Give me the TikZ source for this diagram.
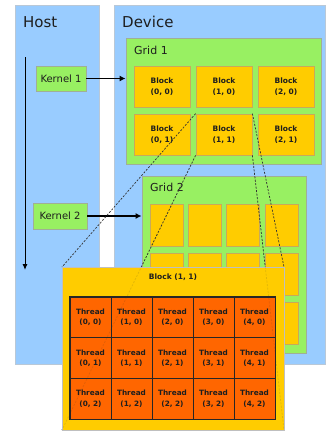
\documentclass[tikz,border=0pt]{standalone}
\usepackage{fontspec}
\setmainfont{DejaVu Sans}
\usetikzlibrary{arrows.meta}
\definecolor{panelblue}{RGB}{153,204,255}
\definecolor{panelline}{RGB}{185,200,215}
\definecolor{gridgreen}{RGB}{152,240,98}
\definecolor{gridline}{RGB}{160,175,150}
\definecolor{blockyellow}{RGB}{255,204,0}
\definecolor{blockline}{RGB}{200,170,90}
\definecolor{threadorange}{RGB}{255,102,0}
\definecolor{textdark}{RGB}{30,30,30}
\tikzset{
  panel/.style={draw=panelline,fill=panelblue,line width=0.8pt,inner sep=0pt},
  gridbox/.style={draw=gridline,fill=gridgreen,line width=0.8pt,inner sep=0pt},
  kernelbox/.style={draw=gridline,fill=gridgreen,line width=0.8pt,inner sep=0pt,
    minimum height=25pt,text=textdark,font=\fontsize{10}{12}\selectfont},
  blockbox/.style={draw=blockline,fill=blockyellow,line width=0.8pt,inner sep=0pt,
    minimum width=56pt,minimum height=41pt,align=center,text=textdark,
    font=\bfseries\fontsize{7.5}{11}\selectfont},
  smallblock/.style={draw=blockline,fill=blockyellow,line width=0.8pt,inner sep=0pt,
    minimum width=33pt,minimum height=42pt},
  threadbox/.style={draw=black!85,fill=threadorange,line width=0.7pt,inner sep=0pt,
    minimum width=41pt,minimum height=40.67pt,align=center,text=textdark,
    font=\bfseries\fontsize{7.3}{10.5}\selectfont},
  title/.style={anchor=west,inner sep=0pt,text=textdark,font=\fontsize{15}{18}\selectfont},
  gridtitle/.style={anchor=west,inner sep=0pt,text=textdark,font=\fontsize{11}{13}\selectfont},
  callarrow/.style={line width=1.3pt,-{Latex[length=6pt,width=6pt]}},
  zoomline/.style={line width=0.7pt,dash pattern=on 2pt off 1.5pt,black!80},
}
\begin{document}
\begin{tikzpicture}[x=1pt,y=-1pt]
\useasboundingbox (0,0) rectangle (326,432);
% panels
\node[panel,minimum width=84pt,minimum height=359pt] (host) at (57,184.5) {};
\node[panel,minimum width=211pt,minimum height=359pt] (device) at (219.5,184.5) {};
\node[title] (hostlabel) at (23,22) {Host};
\node[title] (devicelabel) at (122,22) {Device};
% time line
\coordinate (t0) at (25,57);
\coordinate (t1) at (25,270);
\draw[line width=1pt,-{Latex[length=6pt,width=5pt]}] (t0) -- (t1);
% grids
\node[gridbox,minimum width=195pt,minimum height=126pt] (g1) at (223.5,101) {};
\node[gridtitle] (g1label) at (134,50) {Grid 1};
\node[gridbox,minimum width=164pt,minimum height=177pt] (g2) at (224,264.5) {};
\node[gridtitle] (g2label) at (150,187) {Grid 2};
% kernels
\node[kernelbox,minimum width=50pt] (k1) at (61,78.5) {Kernel 1};
\node[kernelbox,minimum width=54pt,minimum height=26pt] (k2) at (60,216) {Kernel 2};
\draw[callarrow] (k1.east) -- (k1.east -| g1.west);
\draw[callarrow] (k2.east) -- (k2.east -| g2.west);
% grid 1 blocks
\foreach \i/\x in {0/162,1/224,2/286}{
  \foreach \j/\y in {0/86.5,1/134.5}{
    \node[blockbox] (b\i\j) at (\x,\y) {Block\\(\i, \j)};
  }
}
% grid 2 blocks
\foreach \i/\x in {0/167,1/205,2/243,3/281.5}{
  \foreach \j/\y in {0/225,1/274,2/323}{
    \node[smallblock] (s\i\j) at (\x,\y) {};
  }
}
% zoom lines
\draw[zoomline] (b11.north west) -- (62,267) coordinate (ea);
\draw[zoomline] (b11.south west) -- (62,430) coordinate (eb);
\draw[zoomline] (b11.north east) -- (284,267) coordinate (ec);
\draw[zoomline] (b11.south east) -- (284,430) coordinate (ed);
% expanded block
\node[draw=black!25,fill=blockyellow,line width=0.8pt,inner sep=0pt,
  minimum width=222pt,minimum height=163pt] (eblock) at (173,348.5) {};
\node[inner sep=0pt,text=textdark,font=\bfseries\fontsize{7.5}{9}\selectfont] (eblabel) at (173,277) {Block (1, 1)};
\foreach \i/\x in {0/90.5,1/131.5,2/172.5,3/213.5,4/254.5}{
  \foreach \j/\y in {0/317.33,1/358,2/398.67}{
    \node[threadbox] (t\i\j) at (\x,\y) {Thread\\(\i, \j)};
  }
}
\draw[black!85,line width=1pt] (t00.north west) rectangle (t42.south east);
% faint continuation of zoom lines
\draw[zoomline,opacity=0.15] (b11.south west) -- (eb);
\draw[zoomline,opacity=0.15] (b11.south east) -- (ed);
\end{tikzpicture}
\end{document}
